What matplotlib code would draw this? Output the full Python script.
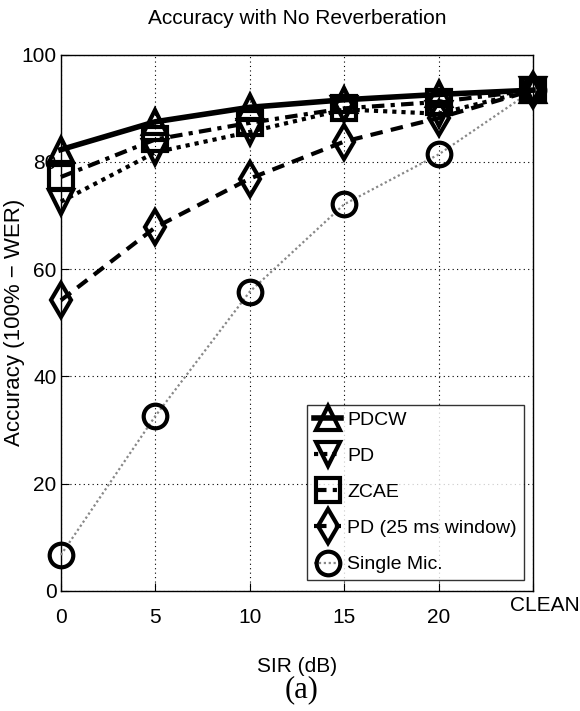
import matplotlib
matplotlib.use('Agg')
import matplotlib.pyplot as plt
import matplotlib.transforms as mtransforms
from matplotlib import font_manager

# Narrow font for the MATLAB-like text if available
names = {f.name for f in font_manager.fontManager.ttflist}
narrow = 'Liberation Sans Narrow' if 'Liberation Sans Narrow' in names else 'Liberation Sans'

# --- Data ---
sir_pos = [0, 5, 10, 15, 20, 25]
sir_labels = ['0', '5', '10', '15', '20', 'CLEAN']
yticks = [0, 20, 40, 60, 80, 100]

pdcw = [82.3, 87.5, 90.2, 91.6, 92.6, 93.4]
pd_full = [72.6, 81.8, 85.6, 89.8, 89.0, 93.4]
zcae = [77.2, 84.2, 87.3, 90.0, 91.2, 93.4]
pd_25ms = [54.2, 67.8, 76.9, 83.8, 88.2, 93.4]
single_mic = [6.7, 32.6, 55.8, 72.1, 81.4, 93.4]

series = [
    ('PDCW', pdcw, '-', '^', 4.0),
    ('PD', pd_full, (0, (1, 1.2)), 'v', 3.0),
    ('ZCAE', zcae, (0, (3, 1.5, 1, 1.5)), 's', 3.0),
    ('PD (25 ms window)', pd_25ms, (0, (3, 2)), 'd', 3.0),
    ('Single Mic.', single_mic, (0, (1, 1.2)), 'o', 1.6),
]

fig = plt.figure(figsize=(5.8, 7.11), dpi=100)
ax = fig.add_axes([0.105, 0.169, 0.814, 0.754])

handles = []
for i, (name, vals, ls, mk, lw) in enumerate(series):
    col = '#888888' if name == 'Single Mic.' else 'black'
    h, = ax.plot(sir_pos, vals, linestyle=ls, color=col, linewidth=lw,
                 marker=mk, markersize=17, markerfacecolor='none',
                 markeredgecolor='black', markeredgewidth=3,
                 label=name, zorder=10 - i, clip_on=False)
    handles.append(h)

ax.set_xlim(0, 25)
ax.set_ylim(0, 100)
ax.set_xticks(sir_pos)
ax.set_xticklabels(sir_labels, fontfamily=narrow, fontsize=15)
ax.set_yticks(yticks)
ax.set_yticklabels([str(v) for v in yticks], fontfamily=narrow, fontsize=15)
ax.grid(True, linestyle=(0, (1, 3)), color='black', linewidth=0.8)
ax.tick_params(direction='in', length=6, width=0.8)
ax.tick_params(axis='x', pad=12)
ax.tick_params(axis='y', pad=3)
# CLEAN label sits a bit higher and to the right
clean = ax.get_xticklabels()[-1]
clean.set_transform(clean.get_transform() +
                    mtransforms.ScaledTranslation(0.12, 0.12, fig.dpi_scale_trans))
for s in ax.spines.values():
    s.set_linewidth(1.0)

ax.set_title('Accuracy with No Reverberation', fontfamily=narrow,
             fontsize=15, pad=22)
ax.set_ylabel('Accuracy (100% \u2212 WER)', fontfamily='Liberation Sans',
              fontsize=16)
ax.yaxis.set_label_coords(-0.075, 0.5)
ax.set_xlabel('SIR (dB)', fontfamily=narrow, fontsize=15, labelpad=22)
fig.text(0.52, 0.01, '(a)', fontfamily='Liberation Serif', fontsize=22,
         ha='center', va='bottom')

leg = ax.legend(handles=handles, loc='lower right', prop={'family': narrow, 'size': 14},
                frameon=True, fancybox=False, edgecolor='black', handlelength=1.4,
                handletextpad=0.3, borderpad=0.35, labelspacing=0.95,
                bbox_to_anchor=(0.98, 0.02), borderaxespad=0)
leg.get_frame().set_linewidth(1.0)
leg.set_zorder(20)

fig.savefig('out.png', dpi=100)
